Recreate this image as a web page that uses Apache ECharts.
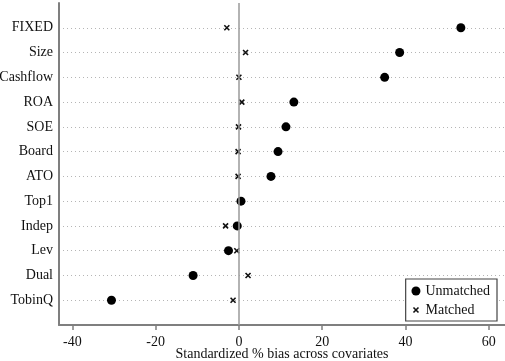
<!DOCTYPE html>
<html>
<head>
<meta charset="utf-8">
<script src="https://cdn.jsdelivr.net/npm/echarts@6/dist/echarts.min.js"></script>
<style>
  html, body { margin: 0; padding: 0; background: #fff; }
  #chart { width: 505px; height: 361px; }
</style>
</head>
<body>
<div id="chart"></div>
<script>
// covariates, top to bottom
var covariates = ['FIXED', 'Size', 'Cashflow', 'ROA', 'SOE', 'Board', 'ATO', 'Top1', 'Indep', 'Lev', 'Dual', 'TobinQ'];
// standardized % bias before matching
var unmatched = [53.3, 38.6, 35.0, 13.2, 11.3, 9.4, 7.7, 0.5, -0.4, -2.5, -11.0, -30.6];
// standardized % bias after matching
var matched = [-2.9, 1.6, 0.0, 0.7, -0.1, -0.2, -0.2, 0.3, -3.2, -0.5, 2.2, -1.4];
var xTicks = [-40, -20, 0, 20, 40, 60];

var crossPath = 'path://M0,0L10,10M10,0L0,10';
// same cross with empty margin so the legend icon stays small
var crossIcon = 'path://M0,0M10,10M2.2,2.2L7.8,7.8M7.8,2.2L2.2,7.8';
var font = 'Liberation Serif';

// row position: FIXED at top (12), TobinQ at bottom (1)
function rowOf(i) { return covariates.length - i; }

var chart = echarts.init(document.getElementById('chart'));

chart.setOption({
  backgroundColor: '#ffffff',
  animation: false,
  grid: { left: 59, right: 0, top: 3, bottom: 36, outerBoundsMode: 'none' },
  legend: {
    orient: 'vertical',
    right: 8,
    bottom: 40,
    backgroundColor: '#fff',
    borderColor: '#444',
    borderWidth: 1.2,
    borderRadius: 0,
    padding: [5, 7, 4, 5],
    itemGap: 5,
    itemWidth: 9,
    itemHeight: 9,
    textStyle: { fontFamily: font, fontSize: 14, color: '#111' },
    data: [
      { name: 'Unmatched', icon: 'circle' },
      { name: 'Matched', icon: crossIcon,
        itemStyle: { color: 'transparent', borderColor: '#111', borderWidth: 1.6 } }
    ]
  },
  xAxis: {
    type: 'value',
    min: -43.2,
    max: 63.9,
    name: 'Standardized % bias across covariates',
    nameLocation: 'middle',
    nameGap: 22,
    nameMoveOverlap: false,
    nameTextStyle: { fontFamily: font, fontSize: 14, color: '#111' },
    axisLine: { show: true, onZero: false, lineStyle: { color: '#7f7f7f', width: 2 } },
    axisTick: { show: true, length: 5, customValues: xTicks, lineStyle: { color: '#7f7f7f', width: 1.5 } },
    axisLabel: { customValues: xTicks, margin: 10, fontFamily: font, fontSize: 14, color: '#111' },
    splitLine: { show: false }
  },
  yAxis: {
    type: 'value',
    min: 0,
    max: 13,
    interval: 1,
    axisLine: { show: true, onZero: false, lineStyle: { color: '#7f7f7f', width: 2 } },
    axisTick: { show: false },
    axisLabel: {
      margin: 6,
      fontFamily: font,
      fontSize: 14,
      color: '#111',
      formatter: function (v) {
        var i = covariates.length - v;
        return (v >= 1 && v <= covariates.length) ? covariates[i] : '';
      }
    },
    splitLine: {
      show: true,
      showMinLine: false,
      showMaxLine: false,
      lineStyle: { color: '#b5b5b5', type: [1, 3], width: 1 }
    }
  },
  series: [
    {
      name: 'Matched',
      type: 'scatter',
      symbol: crossPath,
      symbolSize: 5,
      itemStyle: { color: 'transparent', borderColor: '#111', borderWidth: 1.6, opacity: 1 },
      data: matched.map(function (v, i) { return [v, rowOf(i)]; }),
      markLine: {
        silent: true,
        symbol: 'none',
        label: { show: false },
        lineStyle: { color: '#9a9a9a', type: 'solid', width: 1.5 },
        data: [{ xAxis: 0 }]
      }
    },
    {
      name: 'Unmatched',
      type: 'scatter',
      symbol: 'circle',
      symbolSize: 9,
      itemStyle: { color: '#000', opacity: 1 },
      data: unmatched.map(function (v, i) { return [v, rowOf(i)]; })
    }
  ]
});
</script>
</body>
</html>
